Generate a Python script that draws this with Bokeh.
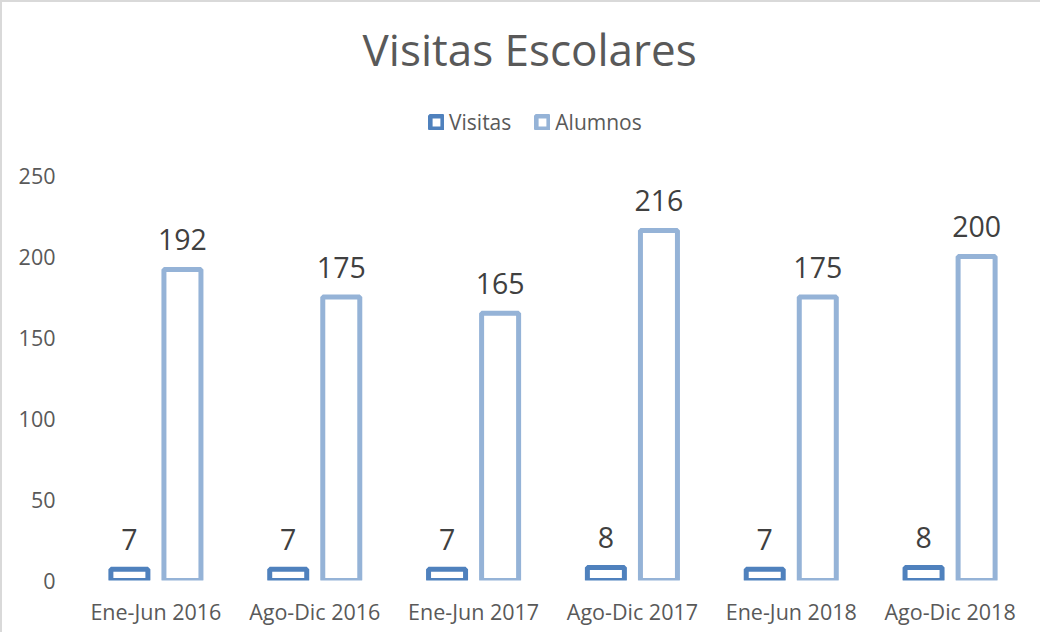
from bokeh.plotting import figure
from bokeh.models import (ColumnDataSource, FactorRange, Range1d, FixedTicker,
                          Legend, LegendItem, Label)
from bokeh.transform import dodge
from bokeh.core.properties import value
from bokeh.embed import file_html
from bokeh.resources import INLINE

categories = ["Ene-Jun 2016", "Ago-Dic 2016", "Ene-Jun 2017",
              "Ago-Dic 2017", "Ene-Jun 2018", "Ago-Dic 2018"]
visitas = [7, 7, 7, 8, 7, 8]
alumnos = [192, 175, 165, 216, 175, 200]
y_ticks = [0, 50, 100, 150, 200, 250]
title_text = "Visitas Escolares"

FONT = "Open Sans"
C_VIS = "#4F81BD"
C_ALU = "#95B3D7"
TXT = "#595959"

src = ColumnDataSource(dict(
    cat=categories,
    vis=visitas,
    alu=alumnos,
    vis_lbl=[str(v) for v in visitas],
    alu_lbl=[str(v) for v in alumnos],
))

p = figure(
    width=1040, height=632,
    x_range=FactorRange(*categories, range_padding=0),
    y_range=Range1d(0, 356.8),
    output_backend="svg", toolbar_location=None, title_location=None,
    min_border_left=74, min_border_right=13, min_border_top=0, min_border_bottom=54,
)
p.styles = {"border-left": "2px solid #d9d9d9", "border-top": "2px solid #d9d9d9"}
p.outline_line_color = None
p.xgrid.grid_line_color = None
p.ygrid.grid_line_color = None

r_vis = p.vbar(x=dodge("cat", -0.167, range=p.x_range), top="vis", width=0.233,
               source=src, fill_color="white", line_color=C_VIS, line_width=5)
r_alu = p.vbar(x=dodge("cat", 0.167, range=p.x_range), top="alu", width=0.233,
               source=src, fill_color="white", line_color=C_ALU, line_width=5)

p.text(x=dodge("cat", -0.167, range=p.x_range), y="vis", text="vis_lbl", source=src,
       text_font=value(FONT), text_font_size="28.5px", text_color="#404040",
       text_align="center", text_baseline="middle", y_offset=-30)
p.text(x=dodge("cat", 0.167, range=p.x_range), y="alu", text="alu_lbl", source=src,
       text_font=value(FONT), text_font_size="28.5px", text_color="#404040",
       text_align="center", text_baseline="middle", y_offset=-30)

p.add_layout(Label(x=2.853, y=327.8, text=title_text, text_font=FONT,
                   text_font_size="44px", text_color=TXT,
                   text_align="center", text_baseline="middle"))

legend = Legend(items=[LegendItem(label="Visitas", renderers=[r_vis]),
                       LegendItem(label="Alumnos", renderers=[r_alu])],
                orientation="horizontal", location=(352, 444),
                padding=0, margin=0, spacing=23, label_standoff=5,
                glyph_width=16, glyph_height=16, label_height=16,
                label_text_font=FONT, label_text_font_size="21px",
                label_text_color=TXT, border_line_color=None,
                background_fill_alpha=0)
p.add_layout(legend, "center")

for ax in (p.xaxis[0], p.yaxis[0]):
    ax.axis_line_color = None
    ax.major_tick_line_color = None
    ax.minor_tick_line_color = None
    ax.major_label_text_font = FONT
    ax.major_label_text_font_size = "21.5px"
    ax.major_label_text_color = TXT

p.yaxis[0].ticker = FixedTicker(ticks=y_ticks)
p.yaxis[0].major_label_standoff = 15
p.xaxis[0].major_label_standoff = 10

open("out.html", "w").write(file_html(p, INLINE))
